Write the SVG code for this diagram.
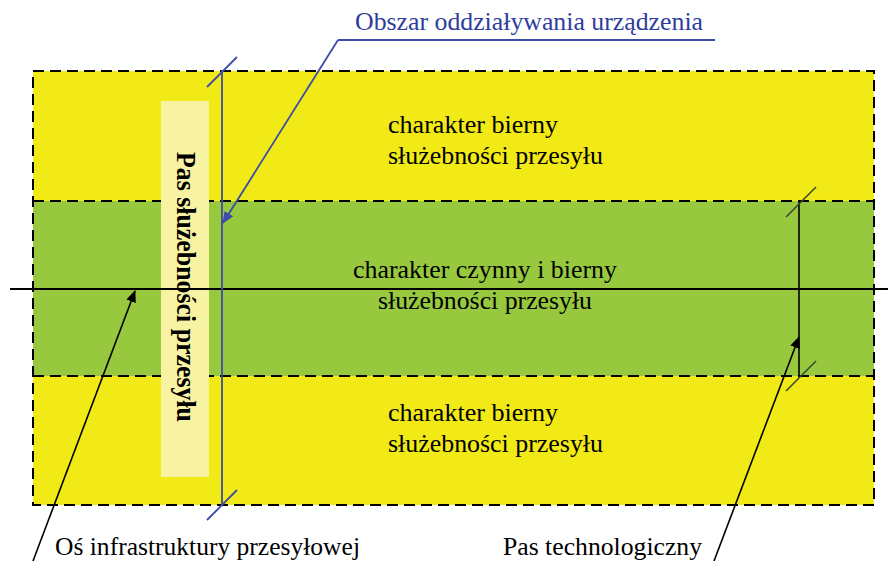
<svg xmlns="http://www.w3.org/2000/svg" width="888" height="561" viewBox="0 0 888 561">
<defs>
<style>
.dash{stroke:#000;stroke-width:2;stroke-dasharray:11 6;fill:none}
.ln{stroke:#000;stroke-width:1.6;fill:none}
.bl{stroke:#3b4ba8;stroke-width:1.8;fill:none}
</style>
<marker id="ab" viewBox="0 0 12 10" refX="11" refY="5" markerWidth="12" markerHeight="10" markerUnits="userSpaceOnUse" orient="auto">
<path d="M0,0 L12,5 L0,10 Z" fill="#000"/>
</marker>
<marker id="abb" viewBox="0 0 12 10" refX="11" refY="5" markerWidth="12" markerHeight="10" markerUnits="userSpaceOnUse" orient="auto">
<path d="M0,0 L12,5 L0,10 Z" fill="#3b4ba8"/>
</marker>
</defs>
<rect width="888" height="561" fill="#fff"/>
<g font-family="'Liberation Serif', 'DejaVu Serif', serif" font-size="26" fill="#000">
<g id="zone-top">
<rect x="33" y="71" width="841" height="130" fill="#f2ea16"/>
<text x="388" y="133" textLength="170" lengthAdjust="spacingAndGlyphs">charakter bierny</text>
<text x="388" y="164" textLength="215" lengthAdjust="spacingAndGlyphs">służebności przesyłu</text>
</g>
<g id="zone-middle">
<rect x="33" y="201" width="841" height="175" fill="#97c83e"/>
<text x="353" y="278" textLength="264" lengthAdjust="spacingAndGlyphs">charakter czynny i bierny</text>
<text x="378" y="309" textLength="214" lengthAdjust="spacingAndGlyphs">służebności przesyłu</text>
</g>
<g id="zone-bottom">
<rect x="33" y="376" width="841" height="129" fill="#f2ea16"/>
<text x="388" y="421" textLength="170" lengthAdjust="spacingAndGlyphs">charakter bierny</text>
<text x="388" y="452" textLength="215" lengthAdjust="spacingAndGlyphs">służebności przesyłu</text>
</g>
<g id="borders">
<rect class="dash" x="33" y="71" width="841" height="434"/>
<line class="dash" x1="33" y1="201" x2="874" y2="201"/>
<line class="dash" x1="33" y1="376" x2="874" y2="376"/>
</g>
<g id="pas-sluzebnosci">
<rect x="161" y="101" width="48" height="376" fill="#f8f3a2"/>
<text transform="translate(177,287) rotate(90)" text-anchor="middle" font-size="27" font-weight="bold" textLength="270" lengthAdjust="spacingAndGlyphs">Pas służebności przesyłu</text>
</g>
<g id="connectors">
<line x1="10" y1="289" x2="888" y2="289" stroke="#000" stroke-width="2"/>
<line class="bl" x1="222" y1="70" x2="222" y2="505"/>
<line class="bl" x1="237" y1="57" x2="207" y2="87"/>
<line class="bl" x1="237" y1="490" x2="207" y2="520"/>
<line class="bl" x1="715" y1="40" x2="338" y2="40"/>
<line class="bl" x1="338" y1="40" x2="223" y2="223" marker-end="url(#abb)"/>
<line class="ln" x1="799" y1="201" x2="799" y2="376"/>
<line stroke="#3a4a2a" stroke-width="1.6" x1="816" y1="187" x2="786" y2="217"/>
<line stroke="#3a4a2a" stroke-width="1.6" x1="816" y1="361" x2="786" y2="391"/>
<line class="ln" x1="33" y1="561" x2="135" y2="291" marker-end="url(#ab)"/>
<line class="ln" x1="714" y1="561" x2="799" y2="337" marker-end="url(#ab)"/>
</g>
<g id="labels">
<text x="355" y="30" fill="#2e3d9c" textLength="348" lengthAdjust="spacingAndGlyphs">Obszar oddziaływania urządzenia</text>
<text x="55" y="555" textLength="305" lengthAdjust="spacingAndGlyphs">Oś infrastruktury przesyłowej</text>
<text x="503" y="555" textLength="199" lengthAdjust="spacingAndGlyphs">Pas technologiczny</text>
</g>
</g>
</svg>
